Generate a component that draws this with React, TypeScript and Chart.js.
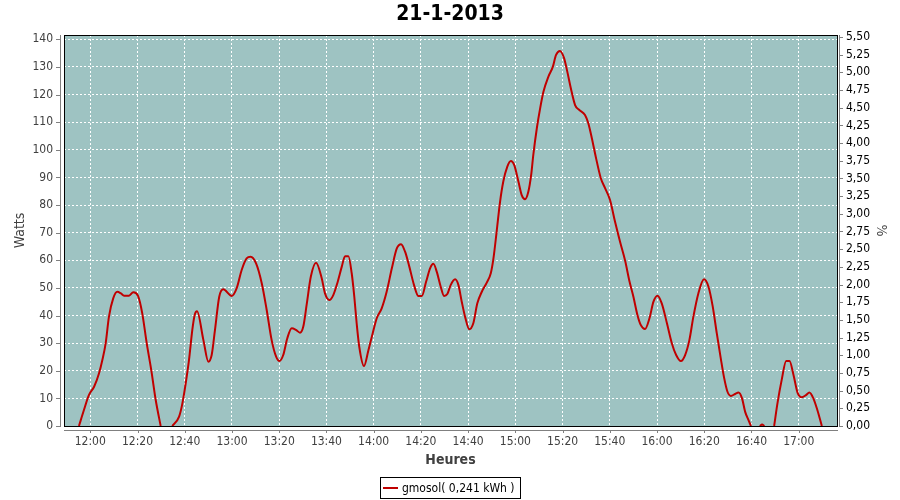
import { useEffect, useRef } from "react";
import { Chart, registerables } from "chart.js";

Chart.register(...registerables);

// ---------- data ----------
const chartTitle = "21-1-2013";
const seriesLabel = "gmosol( 0,241 kWh )";
const xAxisTitle = "Heures";
const yAxisTitle = "Watts";
const y2AxisTitle = "%";

// time of each reading, minutes since midnight
const minutesOfDay = [
  715.2, 717.3, 719.4, 721.6, 723.7, 725.1, 726.5, 727.9, 729.7, 731.4,
  733.0, 734.3, 736.4, 738.2, 740.2, 742.0, 743.9, 745.8, 747.7, 749.8,
  752.0, 754.7, 757.6, 759.0, 760.4, 761.8, 763.2, 764.2, 765.2, 767.9,
  770.0, 771.4, 772.8, 774.6, 776.3, 779.9, 782.0, 784.1, 786.2, 787.9,
  790.2, 792.6, 794.7, 796.8, 798.7, 800.1, 801.7, 803.4, 805.3, 807.1,
  808.8, 810.2, 811.7, 813.4, 815.6, 818.0, 819.4, 821.2, 822.9, 824.6,
  826.5, 827.9, 829.3, 830.7, 831.8, 832.8, 833.9, 835.9, 837.8, 839.6,
  841.3, 843.4, 845.5, 847.7, 849.8, 851.6, 853.3, 855.1, 857.1, 858.9,
  860.4, 862.2, 863.9, 865.3, 866.7, 868.4, 869.8, 871.2, 872.6, 874.5,
  875.9, 877.3, 878.7, 880.5, 882.2, 883.9, 885.8, 887.9, 889.6, 890.7,
  892.1, 893.5, 894.9, 896.6, 898.1, 899.5, 901.3, 902.7, 904.1, 905.5,
  906.7, 907.6, 909.1, 910.5, 911.9, 914.0, 915.9, 917.2, 918.9, 920.6,
  922.0, 923.5, 925.3, 927.1, 929.5, 930.9, 932.4, 934.2, 936.2, 938.0,
  940.1, 942.2, 944.4, 946.5, 948.3, 950.0, 951.7, 953.1, 954.9, 956.8,
  958.5, 960.2, 962.0, 964.2, 966.3, 968.1, 970.1, 971.9, 973.7, 975.4,
  977.5, 979.9, 981.8, 983.6, 985.3, 987.0, 988.4, 989.8, 991.3, 993.1,
  994.5, 996.0, 997.3, 998.7, 999.8, 1001.6, 1003.5, 1004.5, 1005.5, 1007.5,
  1009.6, 1011.0, 1012.8, 1014.7, 1016.1, 1017.8, 1019.5, 1021.3, 1023.1, 1024.5,
  1026.2, 1027.9, 1029.8,
];

// power in watts (null = no reading drawn)
const watts = [
  0, 5.8, 11.2, 14.2, 19.1, 23.9, 29.9, 39.6, 46.2, 48.6,
  48.0, 47.2, 47.2, 48.4, 47.1, 40.8, 29.9, 20.3, 9.4, 0,
  null, 0, 3.4, 8.2, 15.4, 23.9, 34.8, 40.2, 41.5, 31.1,
  23.3, 25.7, 34.8, 46.8, 49.5, 47.1, 49.9, 56.5, 60.7, 61.3,
  58.9, 51.7, 42.0, 31.1, 25.1, 23.5, 25.7, 31.7, 35.4, 34.8,
  33.8, 36.0, 44.4, 54.1, 59.1, 53.5, 48.0, 45.6, 47.4, 51.7,
  57.7, 61.5, 61.5, 55.3, 46.8, 37.2, 28.7, 21.7, 27.5, 33.6,
  39.0, 42.6, 48.6, 57.1, 64.3, 65.8, 63.1, 57.7, 51.0, 47.1,
  47.1, 52.2, 57.1, 58.7, 55.9, 50.4, 47.1, 47.8, 51.0, 53.1,
  51.0, 45.0, 39.6, 35.0, 37.2, 44.4, 48.6, 51.9, 55.3, 60.5,
  70.5, 81.0, 88.5, 93.9, 95.9, 94.5, 88.5, 83.6, 82.1, 84.8,
  90.9, 98.1, 107.8, 115.0, 121.0, 126.5, 130.1, 134.3, 135.8, 133.3,
  128.3, 122.3, 116.2, 114.4, 112.6, 109.6, 104.2, 96.9, 89.7, 86.1,
  81.8, 74.0, 66.5, 59.8, 52.5, 46.8, 40.2, 36.6, 35.1, 39.0,
  45.0, 47.2, 44.4, 37.2, 29.9, 25.7, 23.5, 25.7, 31.1, 39.6,
  48.0, 53.1, 50.4, 43.2, 33.6, 24.5, 17.5, 12.5, 10.9, 11.6,
  12.1, 10.0, 5.2, 2.2, 0, null, 0, 0.5, 0, null,
  0, 8.2, 16.7, 23.5, 23.5, 18.5, 12.1, 10.4, 11.2, 12.1,
  10.0, 5.8, 0,
];

const xTickMinutes = [720, 740, 760, 780, 800, 820, 840, 860, 880, 900, 920, 940, 960, 980, 1000, 1020];
const wattTicks = [0, 10, 20, 30, 40, 50, 60, 70, 80, 90, 100, 110, 120, 130, 140];
const percentTicks = [
  0, 0.25, 0.5, 0.75, 1, 1.25, 1.5, 1.75, 2, 2.25, 2.5, 2.75, 3, 3.25, 3.5,
  3.75, 4, 4.25, 4.5, 4.75, 5, 5.25, 5.5,
];

// axis ranges
const X_MIN = 708.86;
const X_MAX = 1036.22;
const WATT_MAX = 141.56;
const PERCENT_MAX = 5.528;

// ---------- style ----------
const FONT = '"DejaVu Sans Condensed", "DejaVu Sans", sans-serif';
const PLOT_BG = "#9ec3c2";
const LINE_COLOR = "#c00000";
const AXIS_GRAY = "#808080";
const LABEL_GRAY = "#404040";

const fmtTime = (v: number) => {
  const h = Math.floor(v / 60);
  const m = Math.round(v - h * 60);
  return `${h}:${String(m).padStart(2, "0")}`;
};
const fmtPercent = (v: number) => v.toFixed(2).replace(".", ",");

const framePlugin = {
  id: "frame",
  beforeDraw(chart: any) {
    const { ctx, chartArea: a } = chart;
    ctx.save();
    ctx.fillStyle = "#ffffff";
    ctx.fillRect(0, 0, chart.width, chart.height);
    ctx.fillStyle = PLOT_BG;
    ctx.fillRect(a.left, a.top, a.right - a.left, a.bottom - a.top);
    ctx.restore();
  },
  afterDatasetsDraw(chart: any) {
    const { ctx, chartArea: a, scales } = chart;
    const L = Math.round(a.left), R = Math.round(a.right), T = Math.round(a.top), B = Math.round(a.bottom);
    ctx.save();
    // plot border
    ctx.strokeStyle = "#000";
    ctx.lineWidth = 1;
    ctx.strokeRect(L + 0.5, T + 0.5, R - L, B - T);
    // offset axis lines
    ctx.strokeStyle = AXIS_GRAY;
    ctx.beginPath();
    ctx.moveTo(L - 4 + 0.5, T);
    ctx.lineTo(L - 4 + 0.5, B + 1);
    ctx.moveTo(L, B + 4 + 0.5);
    ctx.lineTo(R + 1, B + 4 + 0.5);
    ctx.moveTo(R + 2 + 0.5, T);
    ctx.lineTo(R + 2 + 0.5, B + 1);
    // tick marks
    wattTicks.forEach((v) => {
      const y = Math.round(scales.y.getPixelForValue(v)) + 0.5;
      ctx.moveTo(L - 8, y);
      ctx.lineTo(L - 4, y);
    });
    percentTicks.forEach((v) => {
      const y = Math.round(scales.y1.getPixelForValue(v)) + 0.5;
      ctx.moveTo(R + 3, y);
      ctx.lineTo(R + 6, y);
    });
    xTickMinutes.forEach((v) => {
      const x = Math.round(scales.x.getPixelForValue(v)) + 0.5;
      ctx.moveTo(x, B + 5);
      ctx.lineTo(x, B + 7);
    });
    ctx.stroke();
    ctx.restore();
  },
  afterDraw(chart: any) {
    const { ctx } = chart;
    ctx.save();
    ctx.font = `12px ${FONT}`;
    const tw = ctx.measureText(seriesLabel).width;
    const w = Math.round(3 + 15 + 4 + tw + 5);
    const x0 = Math.round(chart.width / 2 - w / 2);
    const y0 = 477;
    const h = 21;
    ctx.strokeStyle = "#000";
    ctx.lineWidth = 1;
    ctx.strokeRect(x0 + 0.5, y0 + 0.5, w, h);
    ctx.strokeStyle = LINE_COLOR;
    ctx.lineWidth = 2;
    ctx.beginPath();
    ctx.moveTo(x0 + 3, y0 + 11);
    ctx.lineTo(x0 + 18, y0 + 11);
    ctx.stroke();
    ctx.fillStyle = "#000";
    ctx.textBaseline = "middle";
    ctx.textAlign = "left";
    ctx.fillText(seriesLabel, x0 + 22, y0 + 11.5);
    ctx.restore();
  },
};

export default function App() {
  const canvasRef = useRef<HTMLCanvasElement | null>(null);

  useEffect(() => {
    if (!canvasRef.current) return;
    Chart.defaults.font.family = FONT;
    const points = minutesOfDay.map((m, i) => ({ x: m, y: watts[i] }));
    const chart = new Chart(canvasRef.current, {
      type: "line",
      data: {
        datasets: [
          {
            label: seriesLabel,
            data: points as any,
            borderColor: LINE_COLOR,
            backgroundColor: LINE_COLOR,
            borderWidth: 2,
            pointRadius: 0,
            cubicInterpolationMode: "monotone",
            spanGaps: false,
            yAxisID: "y",
          },
        ],
      },
      options: {
        responsive: false,
        animation: false,
        devicePixelRatio: 1,
        layout: { padding: 0 },
        plugins: {
          legend: { display: false },
          tooltip: { enabled: false },
          title: {
            display: true,
            text: chartTitle,
            color: "#000",
            font: { family: FONT, size: 21, weight: "bold", lineHeight: "25px" },
            padding: { top: 2, bottom: 8 },
          },
        },
        scales: {
          x: {
            type: "linear",
            position: "bottom",
            min: X_MIN,
            max: X_MAX,
            afterBuildTicks: (axis: any) => {
              axis.ticks = xTickMinutes.map((v) => ({ value: v }));
            },
            afterFit: (axis: any) => {
              axis.height = 74;
            },
            ticks: {
              autoSkip: false,
              maxRotation: 0,
              padding: 9,
              color: LABEL_GRAY,
              font: { family: FONT, size: 12 },
              callback: (v: any) => fmtTime(Number(v)),
            },
            grid: { color: "#ffffff", lineWidth: 1, drawTicks: false },
            border: { display: false, dash: [2, 2] },
            title: {
              display: true,
              text: xAxisTitle,
              color: LABEL_GRAY,
              font: { family: FONT, size: 14, weight: "bold" },
              padding: { top: 0, bottom: 31.6 },
            },
          },
          y: {
            type: "linear",
            position: "left",
            min: 0,
            max: WATT_MAX,
            afterBuildTicks: (axis: any) => {
              axis.ticks = wattTicks.map((v) => ({ value: v }));
            },
            afterFit: (axis: any) => {
              axis.width = 64;
            },
            ticks: {
              autoSkip: false,
              padding: 11,
              color: LABEL_GRAY,
              font: { family: FONT, size: 12 },
              callback: (v: any) => String(v),
            },
            grid: { color: "#ffffff", lineWidth: 1, drawTicks: false },
            border: { display: false, dash: [2, 2] },
            title: {
              display: true,
              text: yAxisTitle,
              color: LABEL_GRAY,
              font: { family: FONT, size: 14 },
              padding: { top: 12, bottom: 0 },
            },
          },
          y1: {
            type: "linear",
            position: "right",
            min: 0,
            max: PERCENT_MAX,
            afterBuildTicks: (axis: any) => {
              axis.ticks = percentTicks.map((v) => ({ value: v }));
            },
            afterFit: (axis: any) => {
              axis.width = 63;
            },
            ticks: {
              autoSkip: false,
              padding: 9,
              color: "#000",
              font: { family: FONT, size: 12 },
              callback: (v: any) => fmtPercent(Number(v)),
            },
            grid: { drawOnChartArea: false, drawTicks: false },
            border: { display: false },
            title: {
              display: true,
              text: y2AxisTitle,
              color: LABEL_GRAY,
              font: { family: FONT, size: 14 },
              padding: { top: 11, bottom: 0 },
            },
          },
        },
      },
      plugins: [framePlugin],
    });
    return () => chart.destroy();
  }, []);

  return (
    <div style={{ position: "absolute", left: 0, top: 0, width: 900, height: 500 }}>
      <canvas ref={canvasRef} width={900} height={500} style={{ display: "block" }} />
    </div>
  );
}
